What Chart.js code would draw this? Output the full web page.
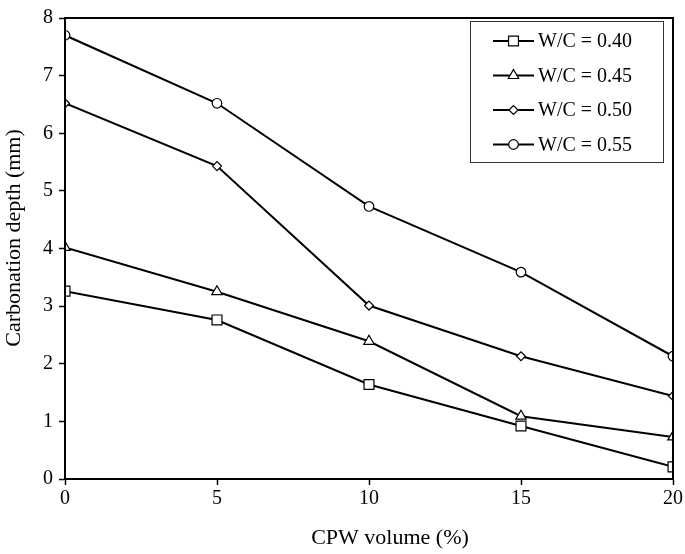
<!DOCTYPE html>
<html>
<head>
<meta charset="utf-8">
<script src="https://cdn.jsdelivr.net/npm/chart.js@4"></script>
<style>
    html, body { margin: 0; padding: 0; background: #fff; }
    #wrap { width: 685px; height: 554px; }
</style>
</head>
<body>
<div id="wrap"><canvas id="carbChart" width="685" height="554"></canvas></div>
<script>
const cpwVolume = [0, 5, 10, 15, 20];
const wc040 = [3.26, 2.76, 1.64, 0.92, 0.21];
const wc045 = [4.02, 3.25, 2.39, 1.09, 0.73];
const wc050 = [6.52, 5.43, 3.01, 2.13, 1.44];
const wc055 = [7.70, 6.52, 4.73, 3.59, 2.13];
const seriesLabels = ['W/C = 0.40', 'W/C = 0.45', 'W/C = 0.50', 'W/C = 0.55'];
const xTicks = [0, 5, 10, 15, 20];
const yTicks = [0, 1, 2, 3, 4, 5, 6, 7, 8];
const xTitle = 'CPW volume (%)';
const yTitle = 'Carbonation depth (mm)';

const FONT = 'Liberation Serif, Times New Roman, serif';

const toPoints = (values) => values.map((v, i) => ({ x: cpwVolume[i], y: v }));

const makeSet = (label, values, style, radius) => ({
    label,
    data: toPoints(values),
    borderColor: '#000',
    borderWidth: 2,
    backgroundColor: '#fff',
    pointStyle: style,
    pointRadius: radius,
    pointBorderColor: '#000',
    pointBorderWidth: 1.2,
    pointBackgroundColor: '#fff',
    tension: 0
});

// box round the plot area plus the two axis titles
const frame = {
    id: 'frame',
    afterDraw(chart) {
        const { ctx, chartArea: a } = chart;
        ctx.save();
        ctx.strokeStyle = '#000';
        ctx.lineWidth = 2;
        ctx.strokeRect(a.left, a.top, a.right - a.left, a.bottom - a.top);

        ctx.fillStyle = '#000';
        ctx.font = '22px ' + FONT;
        ctx.textAlign = 'center';
        ctx.textBaseline = 'middle';
        ctx.fillText(xTitle, 390, 538);
        ctx.translate(14, 238);
        ctx.rotate(-Math.PI / 2);
        ctx.fillText(yTitle, 0, 0);
        ctx.restore();
    }
};

// legend drawn inside the plot, line + marker per series
const boxLegend = {
    id: 'boxLegend',
    afterDraw(chart) {
        const { ctx } = chart;
        const left = 470, top = 21, w = 193, h = 141;
        ctx.save();
        ctx.fillStyle = '#fff';
        ctx.fillRect(left, top, w, h);
        ctx.strokeStyle = '#333';
        ctx.lineWidth = 1;
        ctx.strokeRect(left + 0.5, top + 0.5, w, h);
        ctx.font = '20px ' + FONT;
        ctx.textBaseline = 'middle';
        chart.data.datasets.forEach((ds, i) => {
            const y = 41 + i * 34.5;
            ctx.strokeStyle = '#000';
            ctx.lineWidth = 2;
            ctx.beginPath();
            ctx.moveTo(493, y);
            ctx.lineTo(534, y);
            ctx.stroke();
            ctx.lineWidth = 1.2;
            ctx.fillStyle = '#fff';
            Chart.helpers.drawPoint(ctx, { pointStyle: ds.pointStyle, radius: ds.pointRadius, borderWidth: 1.2 }, 513.5, y);
            ctx.fillStyle = '#000';
            ctx.fillText(ds.label, 538, y + 1);
        });
        ctx.restore();
    }
};

new Chart(document.getElementById('carbChart'), {
    type: 'line',
    data: {
        datasets: [
            makeSet(seriesLabels[0], wc040, 'rect', 7),
            makeSet(seriesLabels[1], wc045, 'triangle', 6),
            makeSet(seriesLabels[2], wc050, 'rectRot', 4.5),
            makeSet(seriesLabels[3], wc055, 'circle', 4.8)
        ]
    },
    options: {
        responsive: false,
        animation: false,
        events: [],
        layout: { padding: { top: 8, right: 11, left: 0, bottom: 0 } },
        scales: {
            x: {
                type: 'linear',
                min: 0,
                max: 20,
                afterBuildTicks: (axis) => { axis.ticks = xTicks.map((v) => ({ value: v })); },
                afterFit: (axis) => { axis.height = 75; },
                grid: { drawOnChartArea: false, tickLength: 6, tickColor: '#000', tickWidth: 1.5 },
                border: { color: '#000', width: 2 },
                ticks: { color: '#000', font: { family: FONT, size: 20 }, padding: 2, maxRotation: 0 }
            },
            y: {
                min: 0,
                max: 8,
                afterBuildTicks: (axis) => { axis.ticks = yTicks.map((v) => ({ value: v })); },
                afterFit: (axis) => { axis.width = 65; },
                grid: { drawOnChartArea: false, tickLength: 6, tickColor: '#000', tickWidth: 1.5 },
                border: { color: '#000', width: 2 },
                ticks: { color: '#000', font: { family: FONT, size: 20 }, padding: 6 }
            }
        },
        plugins: {
            legend: { display: false },
            tooltip: { enabled: false }
        }
    },
    plugins: [frame, boxLegend]
});
</script>
</body>
</html>
